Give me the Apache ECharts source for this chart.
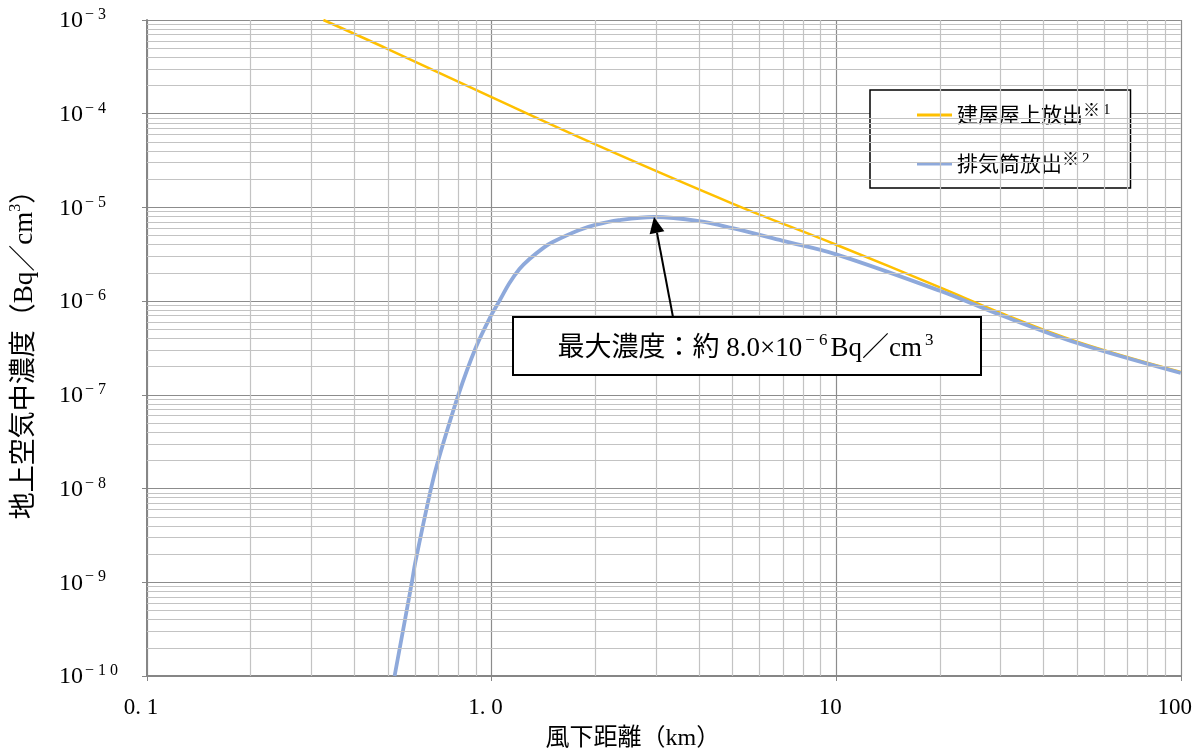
<!DOCTYPE html>
<html><head><meta charset="utf-8">
<script src="https://cdn.jsdelivr.net/npm/echarts@6/dist/echarts.min.js"></script>
<style>html,body{margin:0;padding:0;background:#fff}#c{width:1195px;height:756px}</style>
</head><body><div id="c"></div>
<script>
// ---- data ----
const roofDist  = [0.325, 0.5, 1.0, 2.0, 5.0, 10, 20, 30, 50, 100];
const roofConc  = [1.0e-3, 4.9e-4, 1.5e-4, 4.7e-5, 1.1e-5, 4.0e-6, 1.4e-6, 7.5e-7, 3.7e-7, 1.76e-7];
const stackDist = [0.523, 0.587, 0.6, 0.667, 0.7, 0.801, 0.9, 1.0, 1.053, 1.126, 1.203, 1.286, 1.42, 1.5, 1.79, 2.0, 2.34, 2.96, 4.0, 5.0, 7.0, 10, 20, 30, 50, 100];
const stackConc = [1.0e-10, 1.0e-9, 1.6e-9, 1.0e-8, 2.0e-8, 1.0e-7, 3.2e-7, 7.2e-7, 1.0e-6, 1.55e-6, 2.19e-6, 2.8e-6, 3.75e-6, 4.25e-6, 5.7e-6, 6.5e-6, 7.3e-6, 7.9e-6, 7.15e-6, 6.0e-6, 4.4e-6, 3.16e-6, 1.29e-6, 7.1e-7, 3.57e-7, 1.71e-7];
const seriesNames = ['建屋屋上放出', '排気筒放出'];
const seriesNotes = ['※', '※'];
const seriesNoteNums = ['1', '2'];
const xTicks = [0.1, 1, 10, 100];
const xTickLabels = ['0. 1', '1. 0', '10', '100'];
const yTicks = [1e-10, 1e-9, 1e-8, 1e-7, 1e-6, 1e-5, 1e-4, 1e-3];
const yTickExps = ['− 1 0', '− 9', '− 8', '− 7', '− 6', '− 5', '− 4', '− 3'];
const xTitle = '風下距離（km）';
const yTitle = '地上空気中濃度（Bq／cm';
const peakText = ['最大濃度：約 8.0×10', '− 6', 'Bq／cm', '3'];

const SERIF = '"Liberation Serif", "DejaVu Serif", "Noto Sans CJK JP", serif';
const CJK = '"Liberation Serif", "Noto Sans CJK JP", sans-serif';

const X_MIN = 0.1, X_MAX = 100, Y_MIN = 1e-10, Y_MAX = 1e-3;

// gridline positions (axis structure: 2..9 within each decade)
const xMinor = [], yMinor = [];
for (let d = -1; d < 2; d++) for (let m = 2; m <= 9; m++) xMinor.push(+(m * Math.pow(10, d)).toPrecision(3));
for (let d = -10; d < -3; d++) for (let m = 2; m <= 9; m++) yMinor.push(+(m * Math.pow(10, d)).toPrecision(3));

const chart = echarts.init(document.getElementById('c'), null, {renderer: 'canvas'});

function nearIdx(arr, v) {
  let best = 0;
  for (let i = 1; i < arr.length; i++) if (Math.abs(Math.log10(arr[i]) - Math.log10(v)) < Math.abs(Math.log10(arr[best]) - Math.log10(v))) best = i;
  return best;
}

const minorLines = xMinor.map(v => [{coord: [v, Y_MIN]}, {coord: [v, Y_MAX]}])
  .concat(yMinor.map(v => [{coord: [X_MIN, v]}, {coord: [X_MAX, v]}]));

const option = {
  animation: false,
  backgroundColor: '#fff',
  grid: {left: 146, right: 12, top: 20, bottom: 78, containLabel: false},
  xAxis: {
    type: 'log', logBase: 10, min: X_MIN, max: X_MAX, splitNumber: 3,
    axisLine: {show: true, lineStyle: {color: '#868686', width: 2}},
    axisTick: {show: true, length: 5, lineStyle: {color: '#868686', width: 1}},
    axisLabel: {
      margin: 20, color: '#000', fontFamily: SERIF, fontSize: 23, padding: [0, 12, 0, 0],
      formatter: v => xTickLabels[nearIdx(xTicks, v)]
    },
    splitLine: {show: true, lineStyle: {color: '#8c8c8c', width: 1.2}},
    name: xTitle, nameLocation: 'middle', nameGap: 51,
    nameTextStyle: {color: '#000', fontFamily: CJK, fontSize: 24, padding: [0, 62, 0, 0]}
  },
  yAxis: {
    type: 'log', logBase: 10, min: Y_MIN, max: Y_MAX, splitNumber: 7,
    axisLine: {show: true, lineStyle: {color: '#868686', width: 2}},
    axisTick: {show: true, length: 5, lineStyle: {color: '#868686', width: 1}},
    axisLabel: {
      margin: 88, align: 'left', color: '#000',
      formatter: v => '{b|10}{s|' + yTickExps[nearIdx(yTicks, v)] + '}',
      rich: {
        b: {fontFamily: SERIF, fontSize: 24, color: '#000', lineHeight: 26, verticalAlign: 'bottom'},
        s: {fontFamily: SERIF, fontSize: 16, color: '#000', lineHeight: 16, verticalAlign: 'top', padding: [0, 0, 0, 2]}
      }
    },
    splitLine: {show: true, lineStyle: {color: '#8c8c8c', width: 1.2}},
    name: '{t|' + yTitle + '}{s|3}{t|）}', nameLocation: 'middle', nameGap: 109,
    nameTextStyle: {
      rich: {
        t: {fontFamily: CJK, fontSize: 27, color: '#000', lineHeight: 30, verticalAlign: 'bottom'},
        s: {fontFamily: SERIF, fontSize: 16, color: '#000', lineHeight: 16, verticalAlign: 'top'}
      }
    }
  },
  legend: {
    orient: 'vertical', left: 870, top: 90,
    padding: [13, 20, 12, 47], itemGap: 25, itemWidth: 35, itemHeight: 3,
    backgroundColor: '#fff', borderColor: '#000', borderWidth: 1.5, borderRadius: 0,
    data: [{name: seriesNames[0], icon: 'rect', itemStyle: {color: '#FFC000'}},
           {name: seriesNames[1], icon: 'rect', itemStyle: {color: '#8EA9DB'}}],
    formatter: name => {
      const i = seriesNames.indexOf(name);
      return '{t|' + name + '}{n|' + seriesNotes[i] + '}{s|' + seriesNoteNums[i] + '}';
    },
    textStyle: {
      rich: {
        t: {fontFamily: CJK, fontSize: 21, color: '#000', lineHeight: 24, verticalAlign: 'bottom'},
        n: {fontFamily: CJK, fontSize: 17, color: '#000', lineHeight: 24, verticalAlign: 'top'},
        s: {fontFamily: SERIF, fontSize: 15, color: '#000', lineHeight: 15, verticalAlign: 'top', padding: [0, 0, 0, 3]}
      }
    }
  },
  series: [
    {
      name: '_grid', type: 'line', data: [], silent: true, z: 1,
      markLine: {
        silent: true, symbol: ['none', 'none'], animation: false,
        label: {show: false}, emphasis: {disabled: true},
        lineStyle: {color: '#c3c3c3', width: 1.2, type: 'solid'},
        data: minorLines
      }
    },
    {
      name: seriesNames[0], type: 'line', z: 3,
      data: roofDist.map((d, i) => [d, roofConc[i]]),
      showSymbol: false, symbol: 'none', smooth: 0.4, clip: true,
      lineStyle: {color: '#FFC000', width: 2.5}, itemStyle: {color: '#FFC000'}
    },
    {
      name: seriesNames[1], type: 'line', z: 4,
      data: stackDist.map((d, i) => [d, stackConc[i]]),
      showSymbol: false, symbol: 'none', smooth: 0.35, clip: true,
      lineStyle: {color: '#8EA9DB', width: 3.8}, itemStyle: {color: '#8EA9DB'}
    }
  ]
};
chart.setOption(option);

// annotation: box + arrow pointing at the peak of the stack series
let pk = 0;
for (let i = 1; i < stackConc.length; i++) if (stackConc[i] > stackConc[pk]) pk = i;
const tip = chart.convertToPixel({gridIndex: 0}, [stackDist[pk], stackConc[pk]]);
const box = {x: 513, y: 317, w: 468, h: 58};
const from = [673, box.y];
const ang = Math.atan2(tip[1] - from[1], tip[0] - from[0]);
const L = 16, W = 7.5;
const bx = tip[0] - L * Math.cos(ang), by = tip[1] - L * Math.sin(ang);
const p1 = [bx + W * Math.sin(ang), by - W * Math.cos(ang)];
const p2 = [bx - W * Math.sin(ang), by + W * Math.cos(ang)];
chart.setOption({
  graphic: [
    {type: 'line', shape: {x1: from[0], y1: from[1], x2: bx, y2: by}, style: {stroke: '#000', lineWidth: 2}, z: 100},
    {type: 'polygon', shape: {points: [tip, p1, p2]}, style: {fill: '#000'}, z: 100},
    {type: 'rect', shape: {x: box.x, y: box.y, width: box.w, height: box.h}, style: {fill: '#fff', stroke: '#000', lineWidth: 2}, z: 101},
    {type: 'text', x: box.x + box.w / 2, y: box.y + box.h / 2 + 1, z: 102,
      style: {
        text: '{t|' + peakText[0] + '}{s|' + peakText[1] + '}{t|' + peakText[2] + '}{s|' + peakText[3] + '}',
        align: 'center', verticalAlign: 'middle',
        rich: {
          t: {fontFamily: CJK, fontSize: 27, fill: '#000', lineHeight: 30, verticalAlign: 'bottom'},
          s: {fontFamily: SERIF, fontSize: 17, fill: '#000', lineHeight: 17, verticalAlign: 'top', padding: [0, 3, 0, 3]}
        }
      }
    }
  ]
});
</script>
</body></html>
